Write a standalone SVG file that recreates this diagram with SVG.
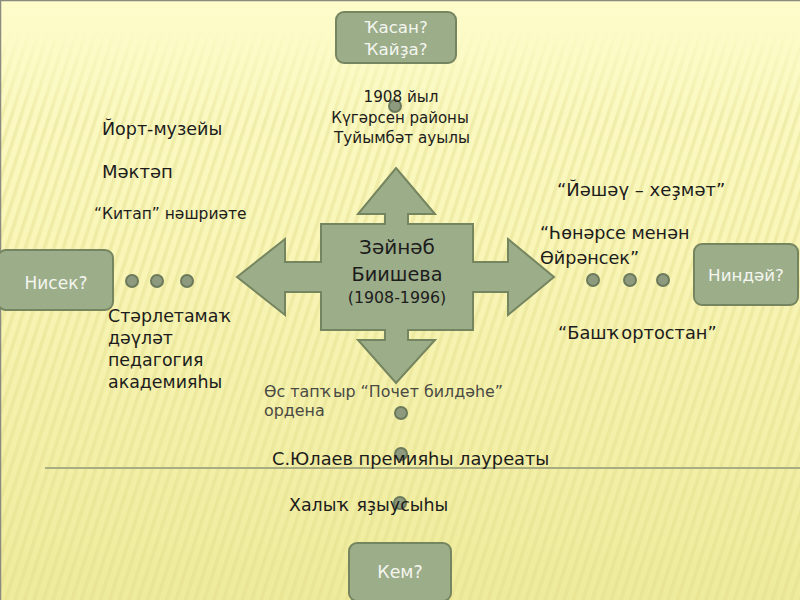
<svg xmlns="http://www.w3.org/2000/svg" width="800" height="600" viewBox="0 0 800 600">
<defs>
<style>
.t{font-family:"DejaVu Sans","Liberation Sans",Arial,sans-serif;fill:#1c1c1c}
.q{font-family:"DejaVu Sans","Liberation Sans",Arial,sans-serif;fill:#f4f6f0;text-anchor:middle}
.box{fill:#9cad8a;stroke:#75855f;stroke-width:2}
.dot{fill:#8e9a7e;stroke:#6c7a5c;stroke-width:2}
</style>
<linearGradient id="bg" x1="0" y1="0" x2="0" y2="1">
<stop offset="0" stop-color="#fdfcca"/>
<stop offset="0.4" stop-color="#f9f6b8"/>
<stop offset="1" stop-color="#efeb9c"/>
</linearGradient>
<pattern id="str" width="9" height="9" patternUnits="userSpaceOnUse" patternTransform="rotate(18)">
<rect x="0" y="0" width="3.5" height="9" fill="#e2dc8a" opacity="0.4"/>
</pattern>
<linearGradient id="fade" x1="0" y1="0" x2="0" y2="1">
<stop offset="0" stop-color="#000"/>
<stop offset="0.05" stop-color="#000"/>
<stop offset="0.2" stop-color="#fff"/>
<stop offset="1" stop-color="#fff"/>
</linearGradient>
<mask id="m"><rect width="800" height="600" fill="url(#fade)"/></mask>
</defs>
<rect width="800" height="600" fill="url(#bg)"/>
<rect width="800" height="600" fill="url(#str)" mask="url(#m)"/>
<path d="M0 0.5H800M0.5 0V600" stroke="#8a8a80" stroke-width="1.5" fill="none"/>
<line x1="45" y1="468" x2="800" y2="468" stroke="#a9ae82" stroke-width="2"/>

<g id="center">
<path class="box" d="M396 168 L435 214 L408 214 L408 224 L473 224 L473 262 L508 262 L508 239 L554 277 L508 315 L508 292 L473 292 L473 330 L408 330 L408 340 L435 340 L396 383 L358 340 L385 340 L385 330 L321 330 L321 292 L285 292 L285 315 L237 277 L285 239 L285 262 L321 262 L321 224 L385 224 L385 214 L358 214 Z"/>
<text class="t" x="397" y="254" font-size="20" text-anchor="middle">Зәйнәб</text>
<text class="t" x="397" y="281" font-size="19.3" text-anchor="middle">Биишева</text>
<text class="t" x="397" y="303" font-size="15.8" text-anchor="middle">(1908-1996)</text>
</g>

<g id="when">
<rect class="box" x="336" y="12" width="120" height="51" rx="8"/>
<text class="q" x="396" y="33" font-size="16.7">Ҡасан?</text>
<text class="q" x="396" y="55" font-size="16.7">Ҡайҙа?</text>
</g>
<g id="how">
<rect class="box" x="-2" y="250" width="115" height="60" rx="8"/>
<text class="q" x="56" y="289" font-size="17">Нисек?</text>
</g>
<g id="what">
<rect class="box" x="694" y="244" width="104" height="61" rx="8"/>
<text class="q" x="746" y="281" font-size="16.7">Ниндәй?</text>
</g>
<g id="who">
<rect class="box" x="349" y="543" width="102" height="58" rx="8"/>
<text class="q" x="400" y="578" font-size="17.4">Кем?</text>
</g>

<g id="connectors">
<circle class="dot" cx="395" cy="106" r="6"/>
<circle class="dot" cx="132" cy="281" r="6"/>
<circle class="dot" cx="157" cy="281" r="6"/>
<circle class="dot" cx="187" cy="281" r="6"/>
<circle class="dot" cx="593" cy="280" r="6"/>
<circle class="dot" cx="630" cy="280" r="6"/>
<circle class="dot" cx="663" cy="280" r="6"/>
<circle class="dot" cx="401" cy="413" r="6"/>
<circle class="dot" cx="401" cy="454" r="6"/>
<circle class="dot" cx="400" cy="503" r="6"/>
</g>

<g id="place">
<text class="t" x="401" y="102" font-size="15.2" text-anchor="middle">1908 йыл</text>
<text class="t" x="400" y="123" font-size="15" text-anchor="middle">Күгәрсен районы</text>
<text class="t" x="402" y="143" font-size="15.2" text-anchor="middle">Туйымбәт ауылы</text>
</g>
<g id="memory">
<text class="t" x="102" y="135" font-size="17.5">Йорт-музейы</text>
<text class="t" x="102" y="178" font-size="18">Мәктәп</text>
<text class="t" x="94" y="219" font-size="15.5">“Китап” нәшриәте</text>
</g>
<g id="academy">
<text class="t" x="108" y="322" font-size="17.4">Стәрлетамаҡ</text>
<text class="t" x="108" y="344" font-size="17.4">дәүләт</text>
<text class="t" x="108" y="366" font-size="17.4">педагогия</text>
<text class="t" x="108" y="388" font-size="17.4">академияһы</text>
</g>
<g id="works">
<text class="t" x="557" y="196" font-size="18">“Йәшәү – хеҙмәт”</text>
<text class="t" x="540" y="239" font-size="17.6">“Һөнәрсе менән</text>
<text class="t" x="540" y="264" font-size="17.6">Өйрәнсек”</text>
<text class="t" x="558" y="339" font-size="17.8">“Башҡортостан”</text>
</g>
<g id="awards">
<text class="t" x="264" y="397" font-size="15.9" style="fill:#4a4a44">Өс тапҡыр “Почет билдәһе”</text>
<text class="t" x="264" y="416" font-size="15.9" style="fill:#4a4a44">ордена</text>
<text class="t" x="272" y="465" font-size="17.8">С.Юлаев премияһы лауреаты</text>
<text class="t" x="289" y="511" font-size="17.4">Халыҡ яҙыусыһы</text>
</g>
</svg>
